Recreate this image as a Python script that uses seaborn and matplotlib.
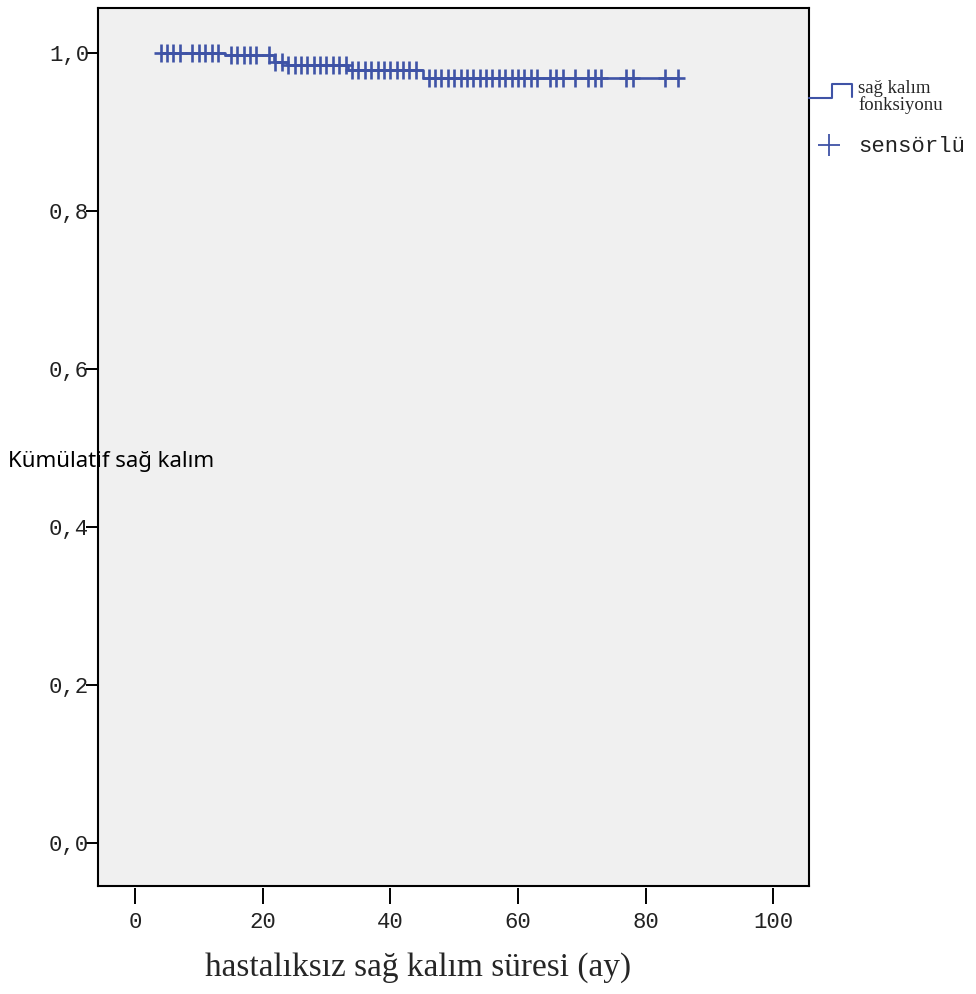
import numpy as np
import pandas as pd
import matplotlib
matplotlib.use("Agg")
import matplotlib.pyplot as plt
from matplotlib.path import Path
from matplotlib.markers import MarkerStyle
from matplotlib.lines import Line2D
from matplotlib.ticker import FuncFormatter
import seaborn as sns

# ---- data ----
start_time = 4.0
end_time = 85.0
event_times = [14.1, 21.7, 23.8, 33.4, 45.1]
event_surv = [0.9975, 0.9886, 0.9848, 0.9785, 0.968]
censor_times = [4, 5, 6, 7, 9, 10, 11, 12, 13,
                15, 16, 17, 18, 19, 21, 22, 23,
                24, 25, 26, 27, 28, 29, 30, 31, 32, 33,
                34, 35, 36, 37, 38, 39, 40, 41, 42, 43, 44,
                46, 47, 48, 49, 50, 51, 52, 53, 54, 55, 56, 57, 58, 59, 60, 61, 62, 63,
                65, 66, 67, 69, 71, 72, 73, 77, 78, 83, 85]
x_ticks = [0, 20, 40, 60, 80, 100]
y_ticks = [0.0, 0.2, 0.4, 0.6, 0.8, 1.0]
x_label = "hastalıksız sağ kalım süresi (ay)"
y_label = "Kümülatif sağ kalım"
legend_labels = ["sağ kalım", "fonksiyonu", "sensörlü"]

# ---- build tables ----
curve = pd.DataFrame({
    "t": [start_time] + event_times + [end_time],
    "s": [1.0] + event_surv + [event_surv[-1]],
})
ev_t = np.array(event_times)
ev_s = np.array(event_surv)
def surv_at(t):
    i = np.searchsorted(ev_t, t, side="right")
    return 1.0 if i == 0 else ev_s[i - 1]
cens = pd.DataFrame({"t": censor_times, "s": [surv_at(t) for t in censor_times]})

BLUE = "#3f53a6"
W, H = 976, 994
def fx(x): return x / W
def fy(y): return 1 - y / H

sns.set_style("white")
fig = plt.figure(figsize=(W / 100, H / 100), dpi=100)
ax = fig.add_axes([fx(98), fy(886), (809 - 98) / W, (886 - 8) / H])
ax.set_facecolor("#f0f0f0")

sns.lineplot(data=curve, x="t", y="s", drawstyle="steps-post", color=BLUE,
             linewidth=1.9, ax=ax, legend=False)

plus = Path([(-6.5, 0), (6.5, 0), (0, -8.5), (0, 8.5)],
            [Path.MOVETO, Path.LINETO, Path.MOVETO, Path.LINETO])
sns.scatterplot(data=cens, x="t", y="s", marker=MarkerStyle(plus), s=(17.5 * 0.72) ** 2,
                color=BLUE, edgecolor=BLUE, linewidth=1.9, ax=ax, legend=False, zorder=3)

ax.set_xlim(-5.8, 105.6)
ax.set_ylim(-0.0544, 1.057)
ax.set_xlabel("")
ax.set_ylabel("")
for sp in ax.spines.values():
    sp.set_visible(True)
    sp.set_color("black")
    sp.set_linewidth(1.5)

mono = "Liberation Mono"
ax.set_yticks(y_ticks)
ax.yaxis.set_major_formatter(FuncFormatter(lambda v, p: f"{v:.1f}".replace(".", ",")))
ax.tick_params(axis="y", direction="out", length=8.6, width=1.4, pad=-2.2,
               labelsize=16, colors="black", left=True)
for lab in ax.get_yticklabels():
    lab.set_fontfamily(mono)
    lab.set_color("#222222")

ax.tick_params(axis="x", bottom=False, labelbottom=False)
sec = ax.secondary_xaxis(-2.0 / 878)
sec.spines["bottom"].set_visible(False)
sec.set_xticks(x_ticks)
sec.set_xticklabels([str(v) for v in x_ticks])
sec.tick_params(axis="x", direction="out", length=11.5, width=1.4, pad=6.0,
                labelsize=16, colors="black")
for lab in sec.get_xticklabels():
    lab.set_fontfamily(mono)
    lab.set_color("#222222")

fig.text(fx(418), fy(968), x_label, family="Liberation Serif", fontsize=24,
         ha="center", va="center")
fig.text(fx(8), fy(462), y_label, family="Noto Sans", fontsize=16, fontweight="medium",
         ha="left", va="center", color="black")

# legend drawn at the right of the frame
fig.add_artist(Line2D([fx(809), fx(832), fx(832), fx(852), fx(852)],
                      [fy(98), fy(98), fy(83.5), fy(83.5), fy(97)],
                      color=BLUE, linewidth=1.5, transform=fig.transFigure))
fig.text(fx(858), fy(93), legend_labels[0], family="Liberation Serif", fontsize=13.5,
         ha="left", va="baseline")
fig.text(fx(858), fy(110), legend_labels[1], family="Liberation Serif", fontsize=13.5,
         ha="left", va="baseline")
fig.add_artist(Line2D([fx(829)], [fy(145)], marker="+", markersize=16, markeredgewidth=1.3,
                      color=BLUE, linestyle="none", transform=fig.transFigure))
fig.text(fx(858), fy(152), legend_labels[2], family=mono, fontsize=16,
         ha="left", va="baseline", color="#222222")

fig.savefig("out.png", dpi=100, facecolor="white")
